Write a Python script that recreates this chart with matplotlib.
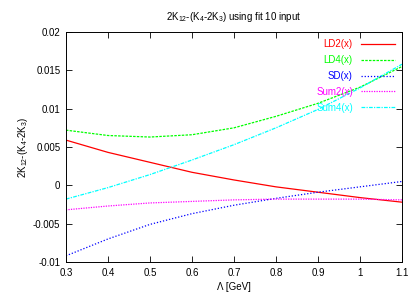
import matplotlib
matplotlib.use('Agg')
import matplotlib.pyplot as plt

lam = [0.3, 0.4, 0.5, 0.6, 0.7, 0.8, 0.9, 1.0, 1.1]
ld2 = [0.0059, 0.0043, 0.0030, 0.0017, 0.0007, -0.0002, -0.0009, -0.0016, -0.0022]
ld4 = [0.0072, 0.0065, 0.0063, 0.0066, 0.0075, 0.0090, 0.0107, 0.0128, 0.0155]
sd = [-0.0092, -0.0070, -0.0051, -0.0037, -0.0026, -0.0017, -0.0009, -0.0002, 0.0005]
sum2 = [-0.0032, -0.0027, -0.0023, -0.0021, -0.0019, -0.0018, -0.0018, -0.0018, -0.0019]
sum4 = [-0.0018, -0.0003, 0.0014, 0.0033, 0.0053, 0.0075, 0.0099, 0.0127, 0.0158]

xticks = [0.3, 0.4, 0.5, 0.6, 0.7, 0.8, 0.9, 1.0, 1.1]
xlabels = ["0.3", "0.4", "0.5", "0.6", "0.7", "0.8", "0.9", "1", "1.1"]
yticks = [-0.01, -0.005, 0, 0.005, 0.01, 0.015, 0.02]
ylabels = ["-0.01", "-0.005", "0", "0.005", "0.01", "0.015", "0.02"]

plt.rcParams['font.family'] = ['Liberation Sans', 'DejaVu Sans']
plt.rcParams['font.size'] = 7
plt.rcParams['mathtext.fontset'] = 'custom'
plt.rcParams['mathtext.rm'] = 'Liberation Sans'
plt.rcParams['mathtext.it'] = 'Liberation Sans'

fig = plt.figure(figsize=(4.2, 2.94), dpi=100)
ax = fig.add_axes([0.157, 0.109, 0.8, 0.782])

ax.plot(lam, ld2, color="#ff0000", lw=0.9, ls="-", label="LD2(x)")
ax.plot(lam, ld4, color="#00ff00", lw=0.9, ls=(0, (2, 1)), label="LD4(x)")
ax.plot(lam, sd, color="#0000ff", lw=0.9, ls=(0, (1, 1.5)), label="SD(x)")
ax.plot(lam, sum2, color="#ff00ff", lw=0.9, ls=(0, (1, 1)), label="Sum2(x)")
ax.plot(lam, sum4, color="#00ffff", lw=0.9, ls=(0, (3, 1, 1, 1)), label="Sum4(x)")

ax.set_xlim(0.3, 1.1)
ax.set_ylim(-0.01, 0.02)
ax.set_xticks(xticks)
ax.set_xticklabels(xlabels)
ax.set_yticks(yticks)
ax.set_yticklabels(ylabels)
ax.tick_params(direction="in", top=True, right=True, length=4, width=0.6, labelsize=7, pad=4)
for s in ax.spines.values():
    s.set_linewidth(0.7)

ax.set_title("2K$_{12}$-(K$_4$-2K$_3$) using fit 10 input", fontsize=7, pad=9)
ax.set_ylabel("2K$_{12}$-(K$_4$-2K$_3$)", fontsize=7, labelpad=2)
ax.set_xlabel("\u039b [GeV]", fontsize=7, labelpad=3)

ax.legend(loc="upper right", frameon=False, markerfirst=False, labelcolor="linecolor",
          handlelength=3.5, fontsize=7, labelspacing=0.6, borderaxespad=0.35)

fig.savefig("out.png", dpi=100)
